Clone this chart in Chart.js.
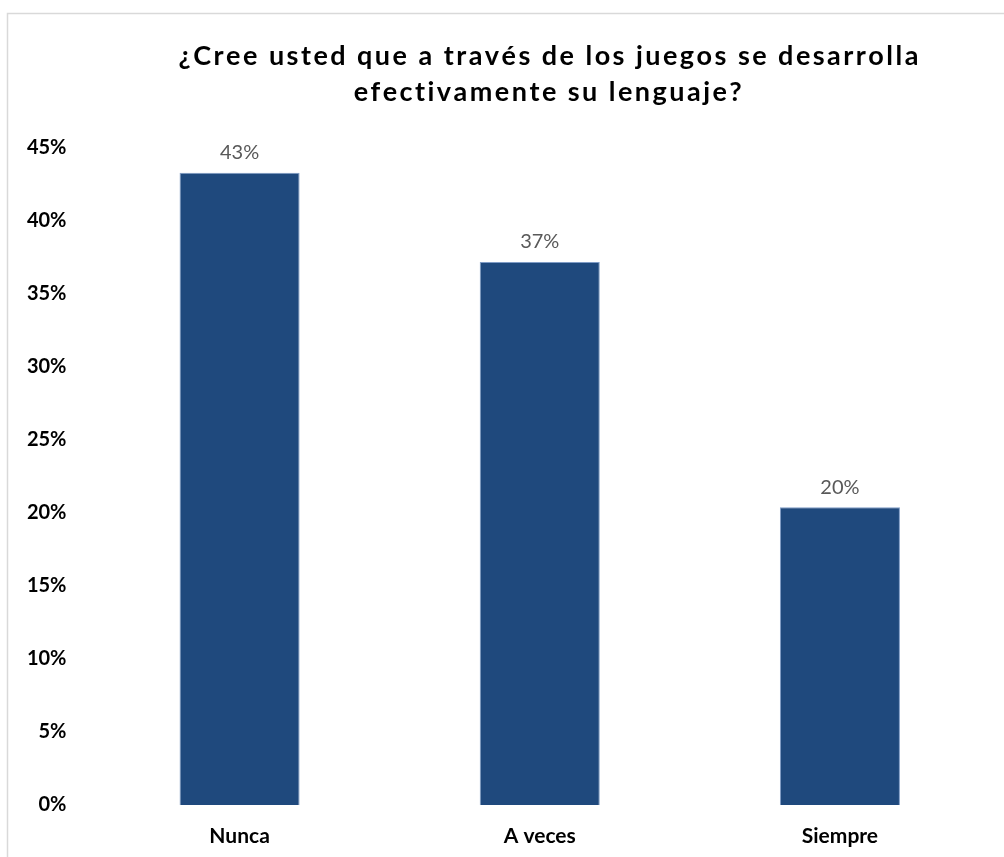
<!DOCTYPE html>
<html>
<head>
<meta charset="utf-8">
<script src="https://cdn.jsdelivr.net/npm/chart.js@4.4.1/dist/chart.umd.min.js"></script>
<style>
  html, body { margin: 0; padding: 0; background: #ffffff; }
  #wrap { position: relative; width: 1004px; height: 857px; overflow: hidden; }
  canvas { display: block; }
</style>
</head>
<body>
<div id="wrap"><canvas id="c" width="1004" height="857"></canvas></div>
<script>
// Survey answers and their shares (percent)
const categories = ['Nunca', 'A veces', 'Siempre'];
const shares = [43.3, 37.2, 20.4];
const titleLines = ['¿Cree usted que a través de los juegos se desarrolla', 'efectivamente su lenguaje?'];
const yTicks = [0, 5, 10, 15, 20, 25, 30, 35, 40, 45];

const FONT = 'Lato, "Open Sans", "DejaVu Sans", sans-serif';

// Light grey frame around the chart object
const framePlugin = {
  id: 'frame',
  beforeDraw(chart) {
    const ctx = chart.ctx;
    ctx.save();
    ctx.strokeStyle = '#d9d9d9';
    ctx.lineWidth = 1.5;
    ctx.strokeRect(7.5, 13.5, 1200, 1000);
    ctx.restore();
  }
};

// Two-line bold heading, centred above the bars
const headingPlugin = {
  id: 'heading',
  afterDraw(chart) {
    const ctx = chart.ctx;
    ctx.save();
    ctx.font = 'bold 27px ' + FONT;
    ctx.fillStyle = '#000000';
    ctx.textBaseline = 'alphabetic';
    ctx.textAlign = 'left';
    const cx = 547;
    const first = titleLines[0];
    const natural = ctx.measureText(first).width;
    const spacing = Math.max(0, (737 - natural) / (first.length - 1));
    const baselines = [65, 101];
    titleLines.forEach((line, i) => {
      const w = ctx.measureText(line).width + spacing * (line.length - 1);
      let x = cx - w / 2;
      for (const ch of line) {
        ctx.fillText(ch, x, baselines[i]);
        x += ctx.measureText(ch).width + spacing;
      }
    });
    ctx.restore();
  }
};

// Percentage label above each bar
const valueLabelPlugin = {
  id: 'valueLabels',
  afterDatasetsDraw(chart) {
    const ctx = chart.ctx;
    const meta = chart.getDatasetMeta(0);
    ctx.save();
    ctx.font = '20px ' + FONT;
    ctx.fillStyle = '#595959';
    ctx.textAlign = 'center';
    ctx.textBaseline = 'middle';
    meta.data.forEach((bar, i) => {
      const v = chart.data.datasets[0].data[i];
      ctx.fillText(Math.round(v) + '%', bar.x, bar.y - 20);
    });
    ctx.restore();
  }
};

new Chart(document.getElementById('c'), {
  type: 'bar',
  data: {
    labels: categories,
    datasets: [{
      data: shares,
      backgroundColor: '#1f497d',
      borderColor: '#7f9cc6',
      borderWidth: 1,
      categoryPercentage: 1.0,
      barPercentage: 0.4
    }]
  },
  options: {
    responsive: false,
    animation: false,
    layout: { padding: { top: 148, right: 14, bottom: 0, left: 0 } },
    plugins: {
      legend: { display: false },
      title: { display: false },
      tooltip: { enabled: false }
    },
    scales: {
      x: {
        grid: { display: false, drawTicks: false },
        border: { display: false },
        ticks: {
          color: '#000000',
          font: { family: FONT, size: 21, weight: 'bold' },
          padding: 19
        },
        afterFit(axis) { axis.height = 52; }
      },
      y: {
        min: 0,
        max: 45,
        afterBuildTicks(axis) { axis.ticks = yTicks.map(v => ({ value: v })); },
        grid: { display: false, drawTicks: false },
        border: { display: false },
        ticks: {
          color: '#000000',
          font: { family: FONT, size: 20, weight: 'bold' },
          padding: 23,
          callback: v => v + '%'
        },
        afterFit(axis) { axis.width = 89.5; }
      }
    }
  },
  plugins: [framePlugin, headingPlugin, valueLabelPlugin]
});
</script>
</body>
</html>
